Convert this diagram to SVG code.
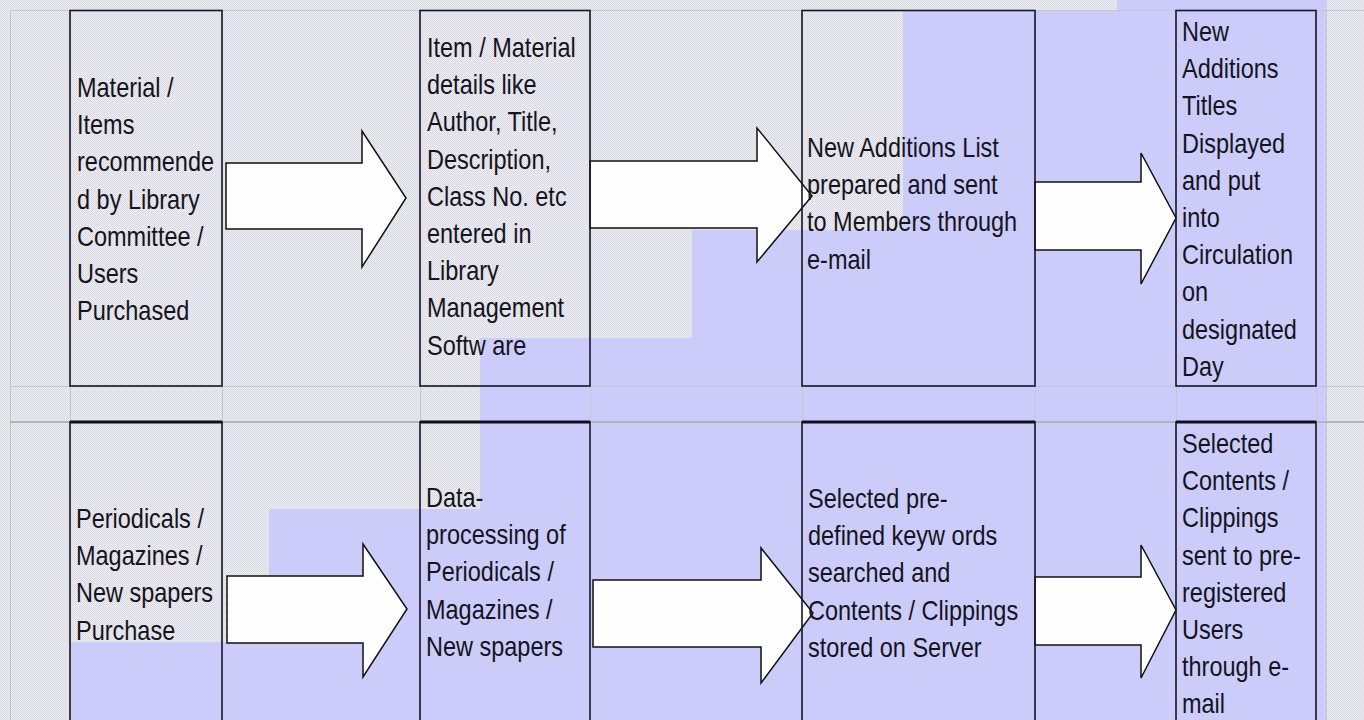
<svg xmlns="http://www.w3.org/2000/svg" width="1364" height="720" viewBox="0 0 1364 720">
<defs>
<pattern id="hatch" width="2" height="2" patternUnits="userSpaceOnUse">
<rect width="2" height="2" fill="#ececf2"/>
<rect width="1" height="1" fill="#dadae2"/>
<rect x="1" y="1" width="1" height="1" fill="#dadae2"/>
</pattern>
<style>
.grid{stroke:#c6c6cc;stroke-width:1;fill:none}
.grid2{stroke:#b4b4ba;stroke-width:2;fill:none}
.box{fill:none;stroke:#16162a;stroke-width:1.6}
.topb{stroke:#10101e;stroke-width:3}
.arrow{fill:#fefefe;stroke:#101010;stroke-width:1.5;stroke-linejoin:miter}
.t{font-family:"Liberation Sans",Arial,sans-serif;font-size:23.5px;fill:#141420}
</style>
</defs>
<rect width="1364" height="720" fill="url(#hatch)"/>
<polygon id="band" points="1117,0 1327,0 1327,720 70,720 70,642 269,642 269,509 480,509 480,338 692,338 692,230 903,230 903,10 1117,10" fill="#ccccfa"/>
<g id="grid">
<path class="grid" d="M10.5,10V720M70.5,10V720M222.5,10V720M420.5,10V720M590.5,10V720M802.5,10V720M1035.5,10V720M1176.5,10V720M1316.5,10V720M1326.5,10V720M10,10.5H1364M10,386.5H1364"/>
<path class="grid2" d="M10,422H1364"/>
</g>
<g id="connectors">
<polygon class="arrow" points="226,163 362,163 362,131 406,198 362,267 362,229 226,229"/>
<polygon class="arrow" points="590,161 757,161 757,128 812,196 757,262 757,228 590,228"/>
<polygon class="arrow" points="1035,182 1141,182 1141,153 1176,218 1141,284 1141,250 1035,250"/>
<polygon class="arrow" points="227,576 363,576 363,544 407,609 363,677 363,643 227,643"/>
<polygon class="arrow" points="593,580 761,580 761,548 813,613 761,683 761,647 593,647"/>
<polygon class="arrow" points="1035,577 1141,577 1141,545 1176,610 1141,678 1141,645 1035,645"/>
</g>
<g id="n1">
<rect class="box" x="70" y="10.5" width="152" height="375.5"/>
<text class="t" transform="translate(77,97) scale(1,1.2)"><tspan x="0" y="0">Material /</tspan><tspan x="0" dy="31">Items</tspan><tspan x="0" dy="31">recommende</tspan><tspan x="0" dy="31">d by Library</tspan><tspan x="0" dy="31">Committee /</tspan><tspan x="0" dy="31">Users</tspan><tspan x="0" dy="31">Purchased</tspan></text>
</g>
<g id="n2">
<rect class="box" x="420" y="10.5" width="170" height="375.5"/>
<text class="t" transform="translate(427,57) scale(1,1.2)"><tspan x="0" y="0">Item / Material</tspan><tspan x="0" dy="31">details like</tspan><tspan x="0" dy="31">Author, Title,</tspan><tspan x="0" dy="31">Description,</tspan><tspan x="0" dy="31">Class No. etc</tspan><tspan x="0" dy="31">entered in</tspan><tspan x="0" dy="31">Library</tspan><tspan x="0" dy="31">Management</tspan><tspan x="0" dy="31">Softw are</tspan></text>
</g>
<g id="n3">
<rect class="box" x="802" y="10.5" width="233" height="375.5"/>
<text class="t" transform="translate(807,157) scale(1,1.2)"><tspan x="0" y="0">New Additions List</tspan><tspan x="0" dy="31">prepared and sent</tspan><tspan x="0" dy="31">to Members through</tspan><tspan x="0" dy="31">e-mail</tspan></text>
</g>
<g id="n4">
<rect class="box" x="1176" y="10.5" width="140" height="375.5"/>
<text class="t" transform="translate(1182,41) scale(1,1.2)"><tspan x="0" y="0">New</tspan><tspan x="0" dy="31">Additions</tspan><tspan x="0" dy="31">Titles</tspan><tspan x="0" dy="31">Displayed</tspan><tspan x="0" dy="31">and put</tspan><tspan x="0" dy="31">into</tspan><tspan x="0" dy="31">Circulation</tspan><tspan x="0" dy="31">on</tspan><tspan x="0" dy="31">designated</tspan><tspan x="0" dy="31">Day</tspan></text>
</g>
<g id="n5">
<rect class="box" x="70" y="422" width="152" height="310"/>
<path class="topb" d="M70,422H222"/>
<text class="t" transform="translate(76,528) scale(1,1.2)"><tspan x="0" y="0">Periodicals /</tspan><tspan x="0" dy="31">Magazines /</tspan><tspan x="0" dy="31">New spapers</tspan><tspan x="0" dy="31">Purchase</tspan></text>
</g>
<g id="n6">
<rect class="box" x="420" y="422" width="170" height="310"/>
<path class="topb" d="M420,422H590"/>
<text class="t" transform="translate(426,507) scale(1,1.2)"><tspan x="0" y="0">Data-</tspan><tspan x="0" dy="31">processing of</tspan><tspan x="0" dy="31">Periodicals /</tspan><tspan x="0" dy="31">Magazines /</tspan><tspan x="0" dy="31">New spapers</tspan></text>
</g>
<g id="n7">
<rect class="box" x="802" y="422" width="233" height="310"/>
<path class="topb" d="M802,422H1035"/>
<text class="t" transform="translate(808,508) scale(1,1.2)"><tspan x="0" y="0">Selected pre-</tspan><tspan x="0" dy="31">defined keyw ords</tspan><tspan x="0" dy="31">searched and</tspan><tspan x="0" dy="31">Contents / Clippings</tspan><tspan x="0" dy="31">stored on Server</tspan></text>
</g>
<g id="n8">
<rect class="box" x="1176" y="422" width="140" height="310"/>
<path class="topb" d="M1176,422H1316"/>
<text class="t" transform="translate(1182,453) scale(1,1.2)"><tspan x="0" y="0">Selected</tspan><tspan x="0" dy="31">Contents /</tspan><tspan x="0" dy="31">Clippings</tspan><tspan x="0" dy="31">sent to pre-</tspan><tspan x="0" dy="31">registered</tspan><tspan x="0" dy="31">Users</tspan><tspan x="0" dy="31">through e-</tspan><tspan x="0" dy="31">mail</tspan></text>
</g>
</svg>
